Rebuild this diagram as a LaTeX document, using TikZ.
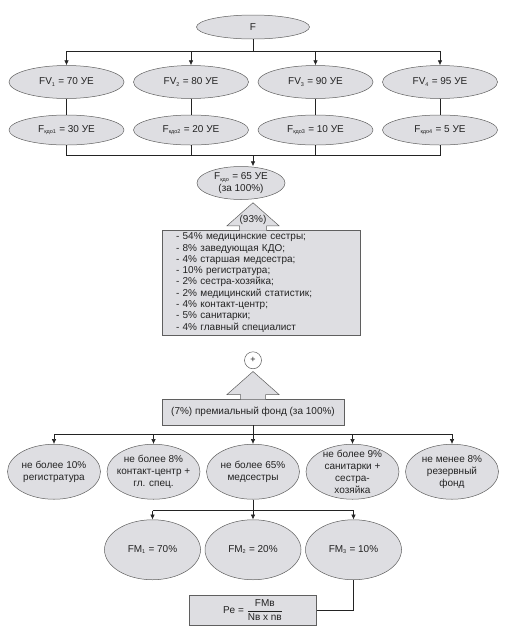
\documentclass[tikz,border=0pt]{standalone}
\usepackage{amsmath}
\usepackage{fontspec}
\setmainfont{Liberation Sans}
\usepackage{tikz}
\usetikzlibrary{positioning,arrows.meta,calc,shapes.geometric}
\definecolor{boxgray}{RGB}{222,222,226}
\definecolor{edgegray}{RGB}{95,95,95}
\definecolor{inkgray}{RGB}{35,35,35}
\newcommand{\lowidx}[1]{\textsubscript{\fontsize{5.5}{6}\selectfont #1}}

\begin{document}
\begin{tikzpicture}[>={Latex[length=5pt,width=4.5pt]},x=1pt,y=1pt,text=inkgray,font=\fontsize{10}{11.8}\selectfont]
\tikzstyle{oval}=[ellipse,draw=edgegray,fill=boxgray,line width=0.5pt,align=center,inner sep=0pt]
\tikzstyle{box}=[draw=edgegray,fill=boxgray,line width=0.5pt,align=center]
\tikzstyle{fvoval}=[oval,minimum width=115pt,minimum height=33pt]
\tikzstyle{kdooval}=[oval,minimum width=115pt,minimum height=30pt]
\tikzstyle{limit}=[oval,minimum width=93pt,minimum height=55pt]
\tikzstyle{fmoval}=[oval,minimum width=96pt,minimum height=60pt]
\tikzstyle{link}=[draw=inkgray,line width=0.6pt]
\tikzstyle{blockarrow}=[draw=edgegray,fill=boxgray,line width=0.5pt]

\useasboundingbox (0,0) rectangle (507,-630);

\node[oval,minimum width=113pt,minimum height=24pt] (f) at (253,-27) {F};
\coordinate[below=12pt of f] (fjoin);

\node[fvoval,below=26pt of f,xshift=-62pt] (fv2) {FV\lowidx{2} = 80 УЕ};
\node[fvoval,left=9pt of fv2] (fv1) {FV\lowidx{1} = 70 УЕ};
\node[fvoval,right=9pt of fv2] (fv3) {FV\lowidx{3} = 90 УЕ};
\node[fvoval,right=9pt of fv3] (fv4) {FV\lowidx{4} = 95 УЕ};

\node[kdooval,below=16pt of fv1] (kdo1) {F\lowidx{кдо1} = 30 УЕ};
\node[kdooval,below=16pt of fv2] (kdo2) {F\lowidx{кдо2} = 20 УЕ};
\node[kdooval,below=16pt of fv3] (kdo3) {F\lowidx{кдо3} = 10 УЕ};
\node[kdooval,below=16pt of fv4] (kdo4) {F\lowidx{кдо4} = 5 УЕ};
\coordinate (kjoin) at ($(fjoin |- kdo2.south)+(0,-10)$);

\node[oval,minimum width=88pt,minimum height=33pt,below=11pt of kjoin,xshift=-12pt] (kdo) {F\lowidx{кдо} = 65 УЕ\\(за 100\%)};
\coordinate (tip1) at ($(kjoin |- kdo.south)+(0,-3)$);

\node[box,text width=170pt,align=left,inner xsep=14pt,inner ysep=1pt,minimum height=105pt,below=27pt of tip1,xshift=8pt,font=\fontsize{10}{11.3}\selectfont] (staff) {- 54\% медицинские сестры;\\- 8\% заведующая КДО;\\- 4\% старшая медсестра;\\- 10\% регистратура;\\- 2\% сестра-хозяйка;\\- 2\% медицинский статистик;\\- 4\% контакт-центр;\\- 5\% санитарки;\\- 4\% главный специалист};
\filldraw[blockarrow] ($(tip1)+(-13.5,-27.8)$) -- ++(0,4.8) -- ++(-12.5,0) -- (tip1) -- ++(26,-23) -- ++(-12.5,0) -- ++(0,-4.8);
\node[inner sep=0pt] (share) at ($(tip1)+(0,-17)$) {(93\%)};

\node[circle,draw=edgegray,fill=white,line width=0.5pt,minimum size=17pt,inner sep=0pt,font=\small] (plus) at ($(kjoin |- staff.south)+(0,-25)$) {+};
\coordinate (tip2) at ($(plus.south)+(0,-2.5)$);

\node[box,minimum width=182pt,minimum height=26pt,below=27pt of tip2] (bonus) {(7\%) премиальный фонд (за 100\%)};
\filldraw[blockarrow] ($(tip2)+(-12.5,-27.8)$) -- ++(0,4.8) -- ++(-13.5,0) -- (tip2) -- ++(26,-23) -- ++(-13.5,0) -- ++(0,-4.8);
\coordinate[below=9pt of bonus] (bjoin);

\node[limit,below=19pt of bonus] (nurse) {не более 65\%\\медсестры};
\node[limit,left=6pt of nurse,inner xsep=-8pt] (contact) {не более 8\%\\контакт-центр +\\гл. спец.};
\node[limit,left=6pt of contact,inner xsep=-2pt] (reg) {не более 10\%\\регистратура};
\node[limit,right=6pt of nurse,inner ysep=-3pt] (aides) {не более 9\%\\санитарки +\\сестра-\\хозяйка};
\node[limit,right=6pt of aides] (reserve) {не менее 8\%\\резервный\\фонд};
\coordinate[below=11pt of nurse] (mjoin);

\node[fmoval,below=20pt of nurse] (fm2) {FM\lowidx{2} = 20\%};
\node[fmoval,left=4pt of fm2] (fm1) {FM\lowidx{1} = 70\%};
\node[fmoval,right=4pt of fm2] (fm3) {FM\lowidx{3} = 10\%};

\node[box,minimum width=127pt,minimum height=30pt,inner ysep=1pt,below=15pt of fm2] (pe) {Pe = $\dfrac{\text{FMв}}{\text{Nв x nв}}$};

\draw[link] (f) -- (fjoin);
\draw[link] (fjoin -| fv1) -- (fjoin -| fv4);
\foreach \n in {fv1,fv2,fv3,fv4}
  \draw[link,->] (fjoin -| \n) -- (\n);
\foreach \i in {1,...,4}
  \draw[link] (fv\i) -- (kdo\i);
\draw[link] (kdo1) |- (kjoin -| kdo4) -- (kdo4);
\draw[link] (kdo2) -- (kdo2 |- kjoin);
\draw[link] (kdo3) -- (kdo3 |- kjoin);
\draw[link,->] (kjoin) -- (kdo.north -| kjoin);

\draw[link] (bonus) -- (bjoin);
\draw[link] (bjoin -| reg) -- (bjoin -| reserve);
\foreach \n in {reg,contact,nurse,aides,reserve}
  \draw[link,->] (bjoin -| \n) -- (\n);

\draw[link] (nurse) -- (mjoin);
\draw[link] (mjoin -| fm1) -- (mjoin -| fm3);
\foreach \n in {fm1,fm2,fm3}
  \draw[link,->] (mjoin -| \n) -- (\n);
\draw[link] (fm3) |- (pe);
\end{tikzpicture}
\end{document}
